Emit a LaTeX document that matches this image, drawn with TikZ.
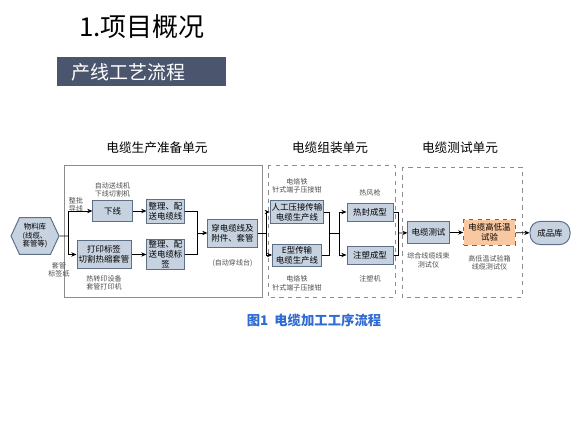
\documentclass[tikz,border=0pt]{standalone}
\usepackage{fontspec}
\setmainfont{Noto Sans CJK SC}
\usetikzlibrary{arrows.meta, positioning, calc, shapes.symbols}
\definecolor{boxblue}{HTML}{C7D2E1}
\definecolor{boxedge}{HTML}{5E6F87}
\definecolor{banner}{HTML}{4B566E}
\definecolor{testorange}{HTML}{F9C8A0}
\definecolor{testedge}{HTML}{7A6656}
\definecolor{capblue}{HTML}{2F6BD4}
\tikzset{
  box/.style={draw=boxedge, fill=boxblue, line width=0.7pt, align=center, inner sep=1pt,
    font=\fontsize{6}{7}\selectfont},
  lbl/.style={align=center, inner sep=0.5pt, text=black!70, font=\fontsize{5}{5.8}\selectfont},
  arr/.style={-{Stealth[length=1.3mm, width=1.1mm]}, line width=0.5pt},
  wire/.style={line width=0.5pt},
  unit/.style={draw=black!45, line width=0.7pt},
  head/.style={font=\fontsize{9}{10}\selectfont},
}

\begin{document}
\begin{tikzpicture}[x=0.025cm, y=-0.025cm]
    \useasboundingbox (0,0) rectangle (579,434);
    % title and banner
    \node[anchor=west, inner sep=0pt, font=\fontsize{18.5}{20}\selectfont] (title) at (79,27) {1.项目概况};
    \node[fill=banner, anchor=north west, minimum width=4.225cm, minimum height=0.725cm, inner sep=0pt] (bar) at (57,57) {};
    \node[anchor=west, inner sep=0pt, text=white, font=\fontsize{13.5}{15}\selectfont] (bartext) at (71,72) {产线工艺流程};
    % units
    \draw[unit] (64,165) rectangle (262,297);
    \draw[unit, dashed] (268,165) rectangle (395,297);
    \draw[unit, dashed] (402,167) rectangle (522,297);
    \node[head] (h1) at (157,148) {电缆生产准备单元};
    \node[head] (h2) at (330,148) {电缆组装单元};
    \node[head] (h3) at (460,148) {电缆测试单元};
    % preparation unit
    \node[signal, signal to=east and west, signal pointer angle=130, draw=boxedge, fill=boxblue,
      line width=0.7pt, align=center, inner sep=0pt, minimum width=1.2cm, minimum height=0.92cm,
      font=\fontsize{5.3}{6.1}\selectfont] (wuliao) at (35,236) {物料库\\(线缆、\\套管等)};
    \node[box, minimum width=0.98cm, minimum height=0.53cm] (xiaxian) at (112.5,211) {下线};
    \node[box, minimum width=1.35cm, minimum height=0.68cm] (dayin) at (104,254.5) {打印标签\\切割热缩套管};
    \node[box, minimum width=0.93cm, minimum height=0.6cm] (zhengli1) at (165.5,211) {整理、配\\送电缆线};
    \node[box, minimum width=0.93cm, minimum height=0.68cm] (zhengli2) at (165.5,254.5) {整理、配\\送电缆标\\签};
    \node[box, minimum width=1.23cm, minimum height=0.7cm] (chuan) at (232.5,233) {穿电缆线及\\附件、套管};
    \node[lbl, above=1pt of xiaxian] (l1) {自动送线机\\下线切割机};
    \node[lbl] (l2) at (76,205) {整批\\导线};
    \node[lbl] (l3) at (59,270) {套管\\标签纸};
    \node[lbl, below=4pt of dayin] (l4) {热转印设备\\套管打印机};
    \node[lbl, below=8pt of chuan] (l5) {(自动穿线台)};
    \coordinate (f1) at (68,236);
    \coordinate (m1) at (197,233);
    \draw[wire] (wuliao) -- (f1);
    \draw[arr] (f1) |- (xiaxian);
    \draw[arr] (f1) |- (dayin);
    \draw[arr] (xiaxian) -- (zhengli1);
    \draw[arr] (dayin) -- (zhengli2);
    \draw[wire] (zhengli1) -| (m1);
    \draw[wire] (zhengli2) -| (m1);
    \draw[arr] (m1) -- (chuan);
    % assembly unit
    \node[box, minimum width=1.22cm, minimum height=0.58cm] (rengong) at (297,212) {人工压接传输\\电缆生产线};
    \node[box, minimum width=1.22cm, minimum height=0.55cm] (exing) at (297,255) {E型传输\\电缆生产线};
    \node[box, minimum width=1.15cm, minimum height=0.45cm] (refeng) at (370,212) {热封成型};
    \node[box, minimum width=1.15cm, minimum height=0.45cm] (zhusu) at (370,255) {注塑成型};
    \node[lbl, above=4pt of rengong] (l6) {电烙铁\\针式端子压接钳};
    \node[lbl, below=6pt of exing] (l7) {电烙铁\\针式端子压接钳};
    \node[lbl, above=4pt of refeng] (l8) {热风枪};
    \node[lbl, below=7pt of zhusu] (l9) {注塑机};
    \coordinate (f2) at (266,233);
    \coordinate (m2) at (329,233);
    \coordinate (f3) at (339,233);
    \coordinate (m3) at (398,233);
    \draw[wire] (chuan) -- (f2);
    \draw[arr] (f2) |- (rengong);
    \draw[arr] (f2) |- (exing);
    \draw[wire] (rengong) -| (m2);
    \draw[wire] (exing) -| (m2);
    \draw[wire] (m2) -- (f3);
    \draw[arr] (f3) |- (refeng);
    \draw[arr] (f3) |- (zhusu);
    \draw[wire] (refeng) -| (m3);
    \draw[wire] (zhusu) -| (m3);
    % test unit
    \node[box, minimum width=1.03cm, minimum height=0.53cm] (ceshi) at (428.5,232.5) {电缆测试};
    \node[box, draw=testedge, fill=testorange, dashed, line width=0.8pt, minimum width=1.28cm,
      minimum height=0.63cm] (gaodi) at (489.5,232.5) {电缆高低温\\试验};
    \node[box, rounded corners=2.6mm, minimum width=1cm, minimum height=0.58cm] (chengpin) at (550,233) {成品库};
    \node[lbl, below=6pt of ceshi] (l10) {综合线缆线束\\测试仪};
    \node[lbl, below=6pt of gaodi] (l11) {高低温试验箱\\线缆测试仪};
    \draw[arr] (m3) -- (ceshi);
    \draw[arr] (ceshi) -- (gaodi);
    \draw[arr] (gaodi) -- (chengpin);
    % caption
    \node[text=capblue, font=\bfseries\fontsize{9.5}{11}\selectfont] (cap) at (314,320) {图1\ \ 电缆加工工序流程};
\end{tikzpicture}
\end{document}
